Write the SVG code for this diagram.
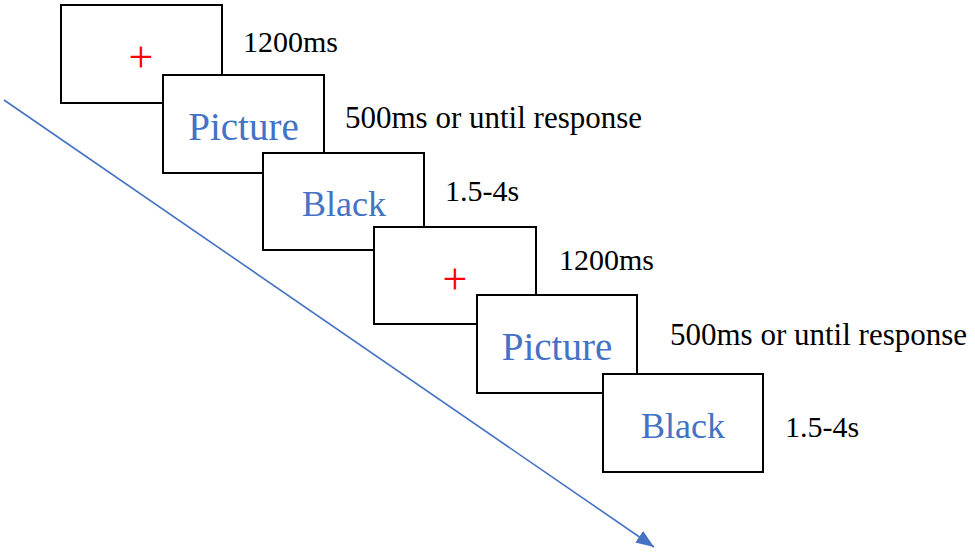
<svg xmlns="http://www.w3.org/2000/svg" width="975" height="555" viewBox="0 0 975 555">
<style>
.box{fill:#fff;stroke:#000;stroke-width:2}
.lbl{font-size:30px;fill:#000}
.lng{font-size:31px;fill:#000}
.pic{font-size:39px;fill:#4472C4;text-anchor:middle}
.blk{font-size:36px;fill:#4472C4;text-anchor:middle}
.fix{font-size:44px;fill:#FF0000;text-anchor:middle}
.arrow{stroke:#4472C4;stroke-width:1.6;fill:none}
</style>
<defs>
<marker id="ah" markerUnits="userSpaceOnUse" markerWidth="20" markerHeight="16" refX="18" refY="7" orient="auto">
<path d="M0,0 L18,7 L0,14 z" fill="#4472C4"/>
</marker>
</defs>
<rect width="975" height="555" fill="#fff"/>
<g id="connectors">
<line class="arrow" x1="4" y1="100" x2="654" y2="547" marker-end="url(#ah)"/>
</g>
<g id="nodes" font-family="Liberation Serif, serif">
<g id="node1">
<rect class="box" x="61" y="5" width="161" height="98"/>
<text class="fix" x="141" y="72">+</text>
<text class="lbl" x="243" y="52">1200ms</text>
</g>
<g id="node2">
<rect class="box" x="163" y="75" width="161" height="98"/>
<text class="pic" x="243.5" y="140">Picture</text>
<text class="lng" x="345" y="128">500ms or until response</text>
</g>
<g id="node3">
<rect class="box" x="263" y="153" width="161" height="97"/>
<text class="blk" x="344" y="216">Black</text>
<text class="lbl" x="445" y="201">1.5-4s</text>
</g>
<g id="node4">
<rect class="box" x="374" y="227" width="162" height="97"/>
<text class="fix" x="455" y="294">+</text>
<text class="lbl" x="559" y="270">1200ms</text>
</g>
<g id="node5">
<rect class="box" x="477" y="295" width="160" height="98"/>
<text class="pic" x="557" y="360">Picture</text>
<text class="lng" x="670" y="345">500ms or until response</text>
</g>
<g id="node6">
<rect class="box" x="603" y="374" width="160" height="98"/>
<text class="blk" x="683" y="438">Black</text>
<text class="lbl" x="785" y="437">1.5-4s</text>
</g>
</g>
</svg>
